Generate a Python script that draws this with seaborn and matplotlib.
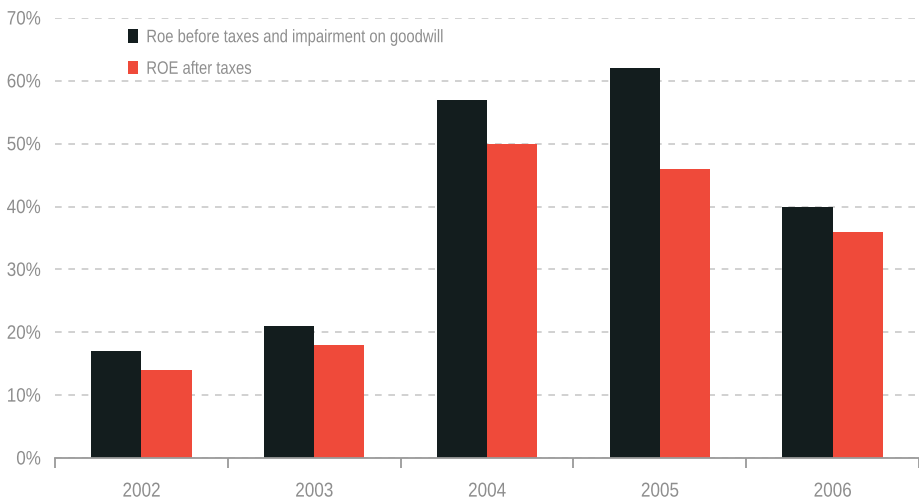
import matplotlib
matplotlib.use("Agg")
import matplotlib.pyplot as plt
from matplotlib.patches import Patch
from matplotlib.patheffects import AbstractPathEffect
from matplotlib.transforms import Affine2D
from matplotlib.ticker import FixedLocator, PercentFormatter
import seaborn as sns
import pandas as pd

years = ["2002", "2003", "2004", "2005", "2006"]
series_names = ["Roe before taxes and impairment on goodwill", "ROE after taxes"]
roe_before = [17, 21, 57, 62, 40]
roe_after = [14, 18, 50, 46, 36]
colors = ["#131d1e", "#ef4a3a"]

df = pd.DataFrame({
    "year": years * 2,
    "series": [series_names[0]] * len(years) + [series_names[1]] * len(years),
    "value": roe_before + roe_after,
})


class Condense(AbstractPathEffect):
    """Narrow a text horizontally, keeping its anchor edge in place."""

    def __init__(self, sx=0.82, anchor="left"):
        super().__init__()
        self.sx = sx
        self.anchor = anchor

    def draw_path(self, renderer, gc, tpath, affine, rgbFace=None):
        ext = tpath.get_extents()
        if self.anchor == "center":
            cx = (ext.x0 + ext.x1) / 2
        elif self.anchor == "right":
            cx = ext.x1
        else:
            cx = ext.x0
        squeeze = Affine2D().translate(-cx, 0).scale(self.sx, 1).translate(cx, 0)
        renderer.draw_path(gc, tpath, squeeze + affine, rgbFace)


sns.set_theme(style="white")
plt.rcParams["font.family"] = ["Liberation Sans", "DejaVu Sans"]
text_grey = "#8e8e8e"

fig = plt.figure(figsize=(9.19, 5.03), dpi=100)
ax = fig.add_axes([55 / 919, 1 - 458 / 503, 1 - 55 / 919, (458 - 18) / 503])

sns.barplot(data=df, x="year", y="value", hue="series", order=years,
            hue_order=series_names, palette=colors, width=0.58,
            saturation=1, edgecolor="none", linewidth=0, legend=False, ax=ax)

ax.set_ylim(0, 70)
ax.set_xlim(-0.5, len(years) - 0.5)
ax.set_yticks(range(0, 71, 10))
ax.yaxis.set_major_formatter(PercentFormatter(decimals=0))
ax.set_xlabel("")
ax.set_ylabel("")

# dashed horizontal grid behind the bars
ax.set_axisbelow(True)
ax.yaxis.grid(True, color="#c9c9c9", linestyle=(0, (4, 4)), linewidth=1.2)
ax.xaxis.grid(False)

for side in ["left", "right", "top"]:
    ax.spines[side].set_visible(False)
ax.spines["bottom"].set_color("#9a9a9a")
ax.spines["bottom"].set_linewidth(1.3)

ax.tick_params(axis="y", length=0, pad=10, labelsize=14, labelcolor=text_grey)
ax.tick_params(axis="x", which="major", length=0, pad=17, labelsize=14.5,
               labelcolor=text_grey)
# separator ticks between year groups
ax.xaxis.set_minor_locator(FixedLocator([i - 0.5 for i in range(len(years) + 1)]))
ax.tick_params(axis="x", which="minor", length=7, width=1.3, color="#9a9a9a",
               direction="out", bottom=True)

handles = [Patch(facecolor=c, edgecolor="none") for c in colors]
leg = fig.legend(handles, series_names, loc="upper left",
                 bbox_to_anchor=(128 / 919, 1 - 29 / 503), frameon=False,
                 fontsize=13, labelcolor=text_grey, handlelength=0.55,
                 handleheight=0.8, handletextpad=0.45, labelspacing=0.8,
                 borderpad=0, borderaxespad=0)

fig.canvas.draw()
for lbl in ax.get_yticklabels():
    lbl.set_path_effects([Condense(0.875, "right")])
for lbl in ax.get_xticklabels():
    lbl.set_path_effects([Condense(0.85, "center")])
for txt in leg.get_texts():
    txt.set_path_effects([Condense(0.82, "left")])

fig.savefig("out.png", dpi=100)
